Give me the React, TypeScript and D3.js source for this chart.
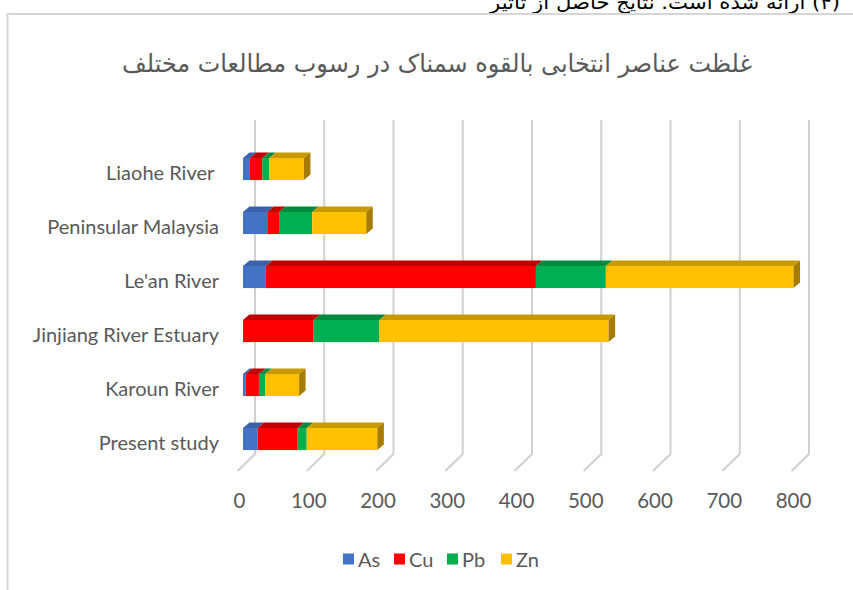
import * as d3 from 'd3';

// categories, top to bottom
const sites = ['Liaohe River', 'Peninsular Malaysia', "Le'an River", 'Jinjiang River Estuary', 'Karoun River', 'Present study'];
const elements = ['As', 'Cu', 'Pb', 'Zn'];

// values
const asValues = [10, 35, 33, 0, 4, 21];
const cuValues = [18, 17, 390, 102, 19, 58];
const pbValues = [10, 48, 101, 95, 9, 13];
const znValues = [50, 78, 271, 331, 49, 102];

const xTicks = [0, 100, 200, 300, 400, 500, 600, 700, 800];

const title = 'غلظت عناصر انتخابی بالقوه سمناک در رسوب مطالعات مختلف';
const topLine = '(۴) ارائه شده است. نتایج حاصل از تاثیر';

const front = { As: '#4472C4', Cu: '#FF0000', Pb: '#00B050', Zn: '#FFC000' };
const top = { As: '#3A62AA', Cu: '#C00000', Pb: '#008A3E', Zn: '#C99A00' };
const side = { As: '#2F528F', Cu: '#A00000', Pb: '#00703A', Zn: '#A67C00' };

const W = 853;
const H = 590;
const FONT = "Lato, 'Open Sans', sans-serif";

export default function App() {
  const rows = sites.map((s, i) => ({ site: s, As: asValues[i], Cu: cuValues[i], Pb: pbValues[i], Zn: znValues[i] }));
  const stack = d3.stack<any>().keys(elements)(rows);

  const x = d3.scaleLinear().domain([0, 800]).range([0, 554]);
  const y = d3.scaleBand().domain(sites).range([142, 466]).paddingInner(0.59).paddingOuter(0.295);

  const wallX = 255; // back wall origin
  const barX = 243; // bar front origin
  const floorX = 237.5; // front edge of floor
  const wallTop = 120;
  const wallBottom = 454;
  const floorFront = 471;
  const dx = 6.5;
  const dy = 5.5;

  const lastKey = (i: number) => {
    for (let k = elements.length - 1; k >= 0; k--) {
      const seg = stack[k][i];
      if (seg[1] - seg[0] > 0) return elements[k];
    }
    return elements[elements.length - 1];
  };

  return (
    <svg width={W} height={H} style={{ position: 'absolute', left: 0, top: 0, background: '#fff' }}>
      <text x={840} y={9} textAnchor="start" direction="rtl" fontFamily="'DejaVu Sans', sans-serif" fontSize={19}
        fill="#000" textLength={350} lengthAdjust="spacingAndGlyphs">
        {topLine}
      </text>
      <rect x={7.5} y={14} width={W + 10} height={H + 10} fill="#fff" stroke="#d6d6d6" strokeWidth={2} />

      <text x={437} y={72} textAnchor="middle" fontFamily="'DejaVu Sans', sans-serif" fontSize={25}
        fill="#595959" textLength={630} lengthAdjust="spacingAndGlyphs">
        {title}
      </text>

      {/* gridlines: back wall and floor */}
      <g stroke="#d0d0d0" strokeWidth={2} fill="none">
        {xTicks.map(t => (
          <path key={t} d={`M${wallX + x(t)},${wallTop}V${wallBottom}L${floorX + x(t)},${floorFront}`} />
        ))}
      </g>

      {/* stacked 3D bars */}
      {sites.map((s, i) => {
        const y0 = y(s)!;
        const h = y.bandwidth();
        const last = lastKey(i);
        return (
          <g key={s}>
            {stack.map(layer => {
              const key = layer.key as keyof typeof front;
              const [a, b] = layer[i];
              if (b - a <= 0) return null;
              const x0 = barX + x(a);
              const x1 = barX + x(b);
              return (
                <g key={key}>
                  <rect x={x0} y={y0} width={x1 - x0} height={h} fill={front[key]} />
                  <path d={`M${x0},${y0}L${x0 + dx},${y0 - dy}L${x1 + dx},${y0 - dy}L${x1},${y0}Z`} fill={top[key]} />
                  {key === last && (
                    <path d={`M${x1},${y0}L${x1 + dx},${y0 - dy}L${x1 + dx},${y0 + h - dy}L${x1},${y0 + h}Z`} fill={side[key]} />
                  )}
                </g>
              );
            })}
          </g>
        );
      })}

      {/* category labels */}
      <g fontFamily={FONT} fontSize={20} fill="#595959" textAnchor="end">
        {sites.map(s => (
          <text key={s} x={219} y={y(s)! + y.bandwidth() / 2 + 11} style={{ whiteSpace: 'pre' }}>
            {s === 'Liaohe River' ? s + '\u00A0' : s}
          </text>
        ))}
      </g>

      {/* value axis labels */}
      <g fontFamily={FONT} fontSize={20.5} fill="#595959" textAnchor="middle">
        {xTicks.map(t => (
          <text key={t} x={floorX + x(t) + 2} y={508}>{t}</text>
        ))}
      </g>

      {/* legend */}
      <g fontFamily={FONT} fontSize={20} fill="#595959">
        {elements.map((e, i) => {
          const lx = [343, 394, 447, 501][i];
          return (
            <g key={e}>
              <rect x={lx} y={553.5} width={11} height={11} fill={front[e as keyof typeof front]} />
              <text x={lx + 15} y={566.5}>{e}</text>
            </g>
          );
        })}
      </g>
    </svg>
  );
}
